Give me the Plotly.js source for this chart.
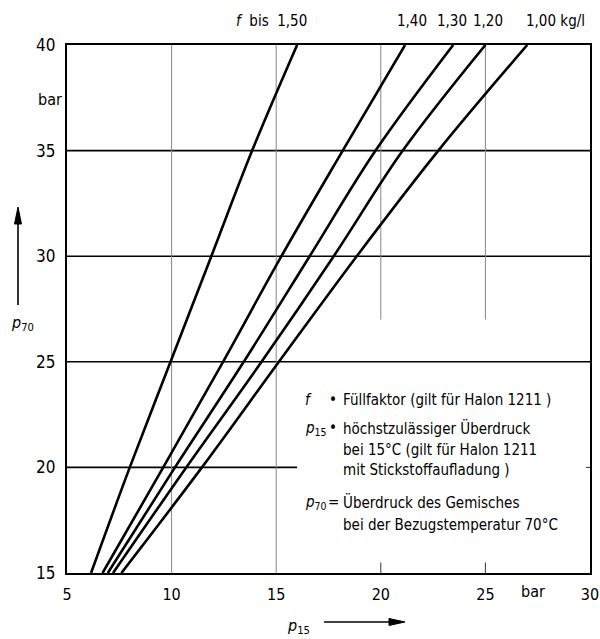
<!DOCTYPE html>
<html>
<head>
<meta charset="utf-8">
<script src="https://cdn.plot.ly/plotly-3.0.1.min.js"></script>
<style>html,body{margin:0;padding:0;background:#fff;}#chart{width:600px;height:639px;}</style>
</head>
<body>
<div id="chart"></div>
<script>
// ---- data ----
const p70 = [15, 20, 25, 30, 35, 40];
const p15_f150 = [6.15, 8.0, 9.95, 11.9, 13.85, 16.0];
const p15_f140 = [6.7, 9.6, 12.46, 15.25, 18.18, 21.16];
const p15_f130 = [6.95, 10.16, 13.45, 16.6, 19.75, 23.46];
const p15_f120 = [7.2, 10.7, 14.3, 17.75, 21.05, 25.0];
const p15_f100 = [7.6, 11.45, 15.13, 18.85, 22.75, 27.0];
const fLabels = ['<i>f</i>  bis  1,50', '1,40', '1,30', '1,20', '1,00 kg/l'];
const xTickVals = [5, 10, 15, 20, 25, 30];
const yTickVals = [15, 20, 25, 30, 35, 40];
const legendSymbols = ['<i>f</i>', '<i>p</i><sub>15</sub>', '', '', '<i>p</i><sub>70</sub>', ''];
const legendSeps = ['•', '•', '', '', '=', ''];
const legendTexts = [
  'Füllfaktor (gilt für Halon 1211 )',
  'höchstzulässiger Überdruck',
  'bei 15°C (gilt für Halon 1211',
  'mit Stickstoffaufladung )',
  'Überdruck des Gemisches',
  'bei der Bezugstemperatur 70°C'
];

// ---- layout geometry ----
const W = 600, H = 639;
const M = {l: 67, r: 10, t: 45, b: 66};
const PW = W - M.l - M.r, PH = H - M.t - M.b;
const px2x = px => (px - M.l) / PW;
const py2y = py => (H - M.b - py) / PH;

const NUMFONT = 'Liberation Sans Narrow, DejaVu Sans Condensed, sans-serif';
const TXTFONT = 'DejaVu Sans Condensed, Liberation Sans Narrow, sans-serif';

const series = [p15_f150, p15_f140, p15_f130, p15_f120, p15_f100];
const traces = series.map((xs, i) => ({
  x: xs, y: p70, type: 'scatter', mode: 'lines',
  line: {color: '#000', width: 2.6, shape: 'spline', smoothing: 1},
  hoverinfo: 'skip', showlegend: false, cliponaxis: true
}));

const shapes = [];
[35, 30, 25].forEach(v => shapes.push({type: 'line', xref: 'x', yref: 'y', x0: 5, x1: 30, y0: v, y1: v, line: {color: '#000', width: 1.6}, layer: 'below'}));
shapes.push({type: 'line', xref: 'x', yref: 'y', x0: 5, x1: 16, y0: 20, y1: 20, line: {color: '#000', width: 1.6}, layer: 'below'});
[10, 15].forEach(v => shapes.push({type: 'line', xref: 'x', yref: 'y', x0: v, x1: v, y0: 15, y1: 40, line: {color: '#888', width: 1}, layer: 'below'}));
[20, 25].forEach(v => shapes.push({type: 'line', xref: 'x', yref: 'y', x0: v, x1: v, y0: 27, y1: 40, line: {color: '#888', width: 1}, layer: 'below'}));
[20, 25].forEach(v => shapes.push({type: 'line', xref: 'x', yref: 'y', x0: v, x1: v, y0: 15, y1: 15.5, line: {color: '#333', width: 1}}));
shapes.push({type: 'line', xref: 'x', yref: 'y', x0: 29.8, x1: 30.25, y0: 20, y1: 20, line: {color: '#333', width: 1}});
// axis arrows (paper coords)
const P = (px, py) => px2x(px).toFixed(5) + ',' + py2y(py).toFixed(5);
shapes.push({type: 'line', xref: 'paper', yref: 'paper', x0: px2x(18), x1: px2x(18), y0: py2y(305), y1: py2y(220), line: {color: '#000', width: 1.6}});
shapes.push({type: 'path', xref: 'paper', yref: 'paper', path: 'M' + P(18, 207) + ' L' + P(14.5, 224) + ' L' + P(21.5, 224) + ' Z', fillcolor: '#000', line: {color: '#000', width: 1}});
shapes.push({type: 'line', xref: 'paper', yref: 'paper', x0: px2x(324), x1: px2x(392), y0: py2y(622), y1: py2y(622), line: {color: '#000', width: 1.6}});
shapes.push({type: 'path', xref: 'paper', yref: 'paper', path: 'M' + P(405, 622) + ' L' + P(389, 618.5) + ' L' + P(389, 625.5) + ' Z', fillcolor: '#000', line: {color: '#000', width: 1}});

const ann = [];
const topPx = [271, 412, 452, 488, 555];
fLabels.forEach((t, i) => ann.push({xref: 'paper', yref: 'paper', x: px2x(topPx[i]), y: py2y(21), text: t, showarrow: false, xanchor: 'center', yanchor: 'middle', font: {family: NUMFONT, size: 15, color: '#000'}}));
// unit labels
ann.push({xref: 'paper', yref: 'paper', x: px2x(50), y: py2y(100), text: 'bar', showarrow: false, xanchor: 'center', yanchor: 'middle', font: {family: NUMFONT, size: 16, color: '#000'}});
ann.push({xref: 'paper', yref: 'paper', x: px2x(533), y: py2y(591), text: 'bar', showarrow: false, xanchor: 'center', yanchor: 'middle', font: {family: NUMFONT, size: 16, color: '#000'}});
// axis titles
ann.push({xref: 'paper', yref: 'paper', x: px2x(22), y: py2y(323), text: '<i>p</i><sub>70</sub>', showarrow: false, xanchor: 'center', yanchor: 'middle', font: {family: TXTFONT, size: 16, color: '#000'}});
ann.push({xref: 'paper', yref: 'paper', x: px2x(298), y: py2y(626), text: '<i>p</i><sub>15</sub>', showarrow: false, xanchor: 'center', yanchor: 'middle', font: {family: TXTFONT, size: 16, color: '#000'}});
// explanation block
const rowsPy = [400, 428, 450, 470, 502, 525];
rowsPy.forEach((py, i) => {
  if (legendSymbols[i]) ann.push({xref: 'paper', yref: 'paper', x: px2x(303), y: py2y(py), text: legendSymbols[i], showarrow: false, xanchor: 'left', yanchor: 'middle', font: {family: TXTFONT, size: 15, color: '#000'}});
  if (legendSeps[i]) ann.push({xref: 'paper', yref: 'paper', x: px2x(333), y: py2y(py), text: legendSeps[i], showarrow: false, xanchor: 'center', yanchor: 'middle', font: {family: TXTFONT, size: 15, color: '#000'}});
  ann.push({xref: 'paper', yref: 'paper', x: px2x(341), y: py2y(py), text: legendTexts[i], showarrow: false, xanchor: 'left', yanchor: 'middle', font: {family: TXTFONT, size: 15, color: '#000'}});
});

const layout = {
  width: W, height: H,
  margin: M,
  paper_bgcolor: '#fff', plot_bgcolor: '#fff',
  showlegend: false,
  xaxis: {range: [5, 30], tickvals: xTickVals, ticktext: xTickVals.map(String), showgrid: false, zeroline: false,
    showline: true, mirror: true, linecolor: '#000', linewidth: 2.2, ticks: '', ticklabelstandoff: 6,
    ticklabeloverflow: 'allow',
    tickfont: {family: NUMFONT, size: 16, color: '#000'}, fixedrange: true, automargin: false},
  yaxis: {range: [15, 40], tickvals: yTickVals, ticktext: yTickVals.map(String), showgrid: false, zeroline: false,
    showline: true, mirror: true, linecolor: '#000', linewidth: 2.2, ticks: '', ticklabelstandoff: 6,
    ticklabeloverflow: 'allow',
    tickfont: {family: NUMFONT, size: 17, color: '#000'}, fixedrange: true, automargin: false},
  shapes: shapes,
  annotations: ann
};

Plotly.newPlot('chart', traces, layout, {displayModeBar: false, staticPlot: true});
</script>
</body>
</html>
